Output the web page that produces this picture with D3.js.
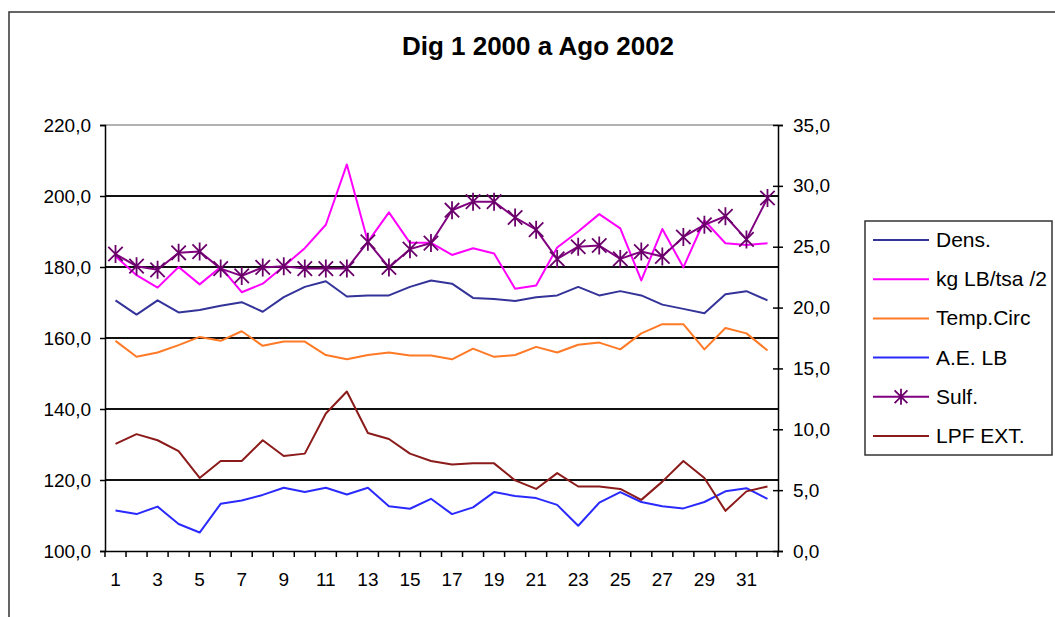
<!DOCTYPE html>
<html lang="es">
<head>
<meta charset="utf-8">
<title>Dig 1 2000 a Ago 2002</title>
<script src="https://cdn.jsdelivr.net/npm/d3@7"></script>
<style>
  body { margin: 0; background: #fff; }
  svg text { font-family: "Liberation Sans", Arial, sans-serif; }
</style>
</head>
<body>
<script>
// data
var categories = d3.range(1, 33);

var dens = [170.6, 166.6, 170.6, 167.2, 167.9, 169.1, 170.1, 167.4, 171.5, 174.4, 176.0,
  171.7, 172.0, 172.0, 174.4, 176.2, 175.3, 171.3, 171.0, 170.4, 171.5, 172.0,
  174.4, 172.0, 173.2, 172.0, 169.4, 168.2, 167.0, 172.3, 173.2, 170.6];

var kgLB = [183.0, 177.7, 174.2, 180.0, 175.1, 180.0, 172.9, 175.3, 180.2, 185.3, 191.9,
  208.9, 187.1, 195.4, 186.8, 186.8, 183.4, 185.3, 183.8, 173.9, 174.8, 185.5,
  190.0, 194.9, 190.9, 176.2, 190.7, 179.9, 193.1, 186.7, 186.2, 186.7];

var tempCirc = [159.2, 154.7, 155.9, 158.0, 160.3, 159.2, 161.9, 157.8, 159.0, 159.0, 155.2,
  154.0, 155.2, 155.9, 155.1, 155.1, 154.0, 157.0, 154.7, 155.2, 157.5, 155.9,
  158.1, 158.7, 156.8, 161.3, 163.9, 163.9, 156.8, 162.8, 161.3, 156.5];

var aeLB = [111.4, 110.4, 112.5, 107.6, 105.2, 113.3, 114.2, 115.8, 117.8, 116.6, 117.8,
  115.9, 117.8, 112.6, 111.9, 114.7, 110.4, 112.3, 116.6, 115.5, 114.9, 113.0,
  107.1, 113.6, 116.6, 113.8, 112.6, 112.0, 113.8, 116.8, 117.7, 114.7];

var sulf = [24.4, 23.4, 23.1, 24.5, 24.6, 23.2, 22.6, 23.3, 23.4, 23.2, 23.2,
  23.2, 25.4, 23.3, 24.8, 25.3, 28.0, 28.7, 28.7, 27.4, 26.4, 24.0,
  25.0, 25.1, 24.0, 24.6, 24.2, 25.8, 26.8, 27.5, 25.6, 29.0];

var lpfExt = [8.8, 9.6, 9.1, 8.2, 6.0, 7.4, 7.4, 9.1, 7.8, 8.0, 11.3,
  13.1, 9.7, 9.2, 8.0, 7.4, 7.1, 7.2, 7.2, 5.8, 5.1, 6.4,
  5.3, 5.3, 5.1, 4.2, 5.7, 7.4, 6.0, 3.3, 4.9, 5.3];

var leftTicks = [100, 120, 140, 160, 180, 200, 220];
var rightTicks = [0, 5, 10, 15, 20, 25, 30, 35];
var xLabels = [1, 3, 5, 7, 9, 11, 13, 15, 17, 19, 21, 23, 25, 27, 29, 31];

var series = [
  { name: "Dens.", values: dens, color: "#333399", axis: "L" },
  { name: "kg LB/tsa /2", values: kgLB, color: "#ff00ff", axis: "L" },
  { name: "Temp.Circ", values: tempCirc, color: "#ff7a26", axis: "L" },
  { name: "A.E. LB", values: aeLB, color: "#2a2aff", axis: "L" },
  { name: "Sulf.", values: sulf, color: "#800080", axis: "R", star: true },
  { name: "LPF EXT.", values: lpfExt, color: "#8b1a1a", axis: "R" }
];

var W = 1055, H = 617;
var plot = { left: 105, right: 778, top: 125, bottom: 551 };

var svg = d3.select("body").append("svg")
  .attr("width", W)
  .attr("height", H);

// chart frame
svg.append("path")
  .attr("d", "M9," + H + "V12H" + W)
  .attr("fill", "none")
  .attr("stroke", "#333")
  .attr("stroke-width", 1.5);

svg.append("text")
  .attr("x", 538)
  .attr("y", 55)
  .attr("text-anchor", "middle")
  .attr("font-size", "26px")
  .attr("font-weight", "bold")
  .text("Dig 1 2000 a Ago 2002");

var x = d3.scaleBand()
  .domain(categories)
  .range([plot.left, plot.right]);

var yL = d3.scaleLinear().domain([100, 220]).range([plot.bottom, plot.top]);
var yR = d3.scaleLinear().domain([0, 35]).range([plot.bottom, plot.top]);

var fmt = function (d) { return d3.format(".1f")(d).replace(".", ","); };

// top edge of plot area
svg.append("line")
  .attr("x1", plot.left).attr("x2", plot.right)
  .attr("y1", plot.top).attr("y2", plot.top)
  .attr("stroke", "#999").attr("stroke-width", 1.5);

// gridlines
svg.append("g")
  .selectAll("line")
  .data(leftTicks.filter(function (d) { return d > 100 && d < 220; }))
  .enter()
  .append("line")
  .attr("x1", plot.left).attr("x2", plot.right)
  .attr("y1", function (d) { return yL(d); })
  .attr("y2", function (d) { return yL(d); })
  .attr("stroke", "#111")
  .attr("stroke-width", 2);

// left axis
var gL = svg.append("g")
  .attr("transform", "translate(" + plot.left + ",0)")
  .call(d3.axisLeft(yL).tickValues(leftTicks).tickFormat(fmt).tickSize(5).tickPadding(9));

// right axis
var gR = svg.append("g")
  .attr("transform", "translate(" + plot.right + ",0)")
  .call(d3.axisRight(yR).tickValues(rightTicks).tickFormat(fmt).tickSize(5).tickPadding(10));
gR.selectAll(".tick line").attr("x1", -5);

// bottom axis
var gB = svg.append("g")
  .attr("transform", "translate(0," + plot.bottom + ")")
  .call(d3.axisBottom(x).tickValues([]).tickSizeOuter(0));

gB.selectAll("line.bt")
  .data(d3.range(categories.length + 1))
  .enter()
  .append("line")
  .attr("class", "bt")
  .attr("x1", function (i) { return plot.left + i * x.step(); })
  .attr("x2", function (i) { return plot.left + i * x.step(); })
  .attr("y1", 0).attr("y2", 6)
  .attr("stroke", "#000").attr("stroke-width", 1.5);

gB.selectAll("text.xl")
  .data(xLabels)
  .enter()
  .append("text")
  .attr("class", "xl")
  .attr("x", function (d) { return x(d) + x.bandwidth() / 2; })
  .attr("y", 35)
  .attr("text-anchor", "middle")
  .attr("font-size", "19px")
  .attr("fill", "#000")
  .text(function (d) { return d; });

[gL, gR, gB].forEach(function (g) {
  g.select(".domain").attr("stroke", "#000").attr("stroke-width", 1.5);
  g.selectAll(".tick line").attr("stroke", "#000").attr("stroke-width", 1.5);
  g.selectAll(".tick text").attr("font-size", "19px").attr("fill", "#000")
    .style("font-family", "'Liberation Sans', Arial, sans-serif");
});

// star marker path
function starPath(cx, cy, r) {
  var d = "M" + cx + "," + (cy - r) + "V" + (cy + r);
  d += "M" + (cx - r * 0.8) + "," + (cy - r * 0.8) + "L" + (cx + r * 0.8) + "," + (cy + r * 0.8);
  d += "M" + (cx - r * 0.8) + "," + (cy + r * 0.8) + "L" + (cx + r * 0.8) + "," + (cy - r * 0.8);
  return d;
}

var cx = function (i) { return x(categories[i]) + x.bandwidth() / 2; };

series.forEach(function (s) {
  var yS = s.axis === "L" ? yL : yR;
  var line = d3.line()
    .x(function (d, i) { return cx(i); })
    .y(function (d) { return yS(d); });

  svg.append("path")
    .datum(s.values)
    .attr("d", line)
    .attr("fill", "none")
    .attr("stroke", s.color)
    .attr("stroke-width", 2)
    .attr("stroke-linejoin", "round");

  if (s.star) {
    svg.append("g")
      .selectAll("path")
      .data(s.values)
      .enter()
      .append("path")
      .attr("d", function (d, i) { return starPath(cx(i), yS(d), 9); })
      .attr("stroke", "#6a006a")
      .attr("stroke-width", 1.8)
      .attr("fill", "none");
  }
});

// legend
var legend = svg.append("g");
legend.append("rect")
  .attr("x", 865).attr("y", 221)
  .attr("width", 187).attr("height", 234)
  .attr("fill", "#fff")
  .attr("stroke", "#333")
  .attr("stroke-width", 1.5);

var item = legend.selectAll("g.item")
  .data(series)
  .enter()
  .append("g")
  .attr("class", "item")
  .attr("transform", function (d, i) { return "translate(0," + (240 + i * 39.2) + ")"; });

item.append("line")
  .attr("x1", 873).attr("x2", 929)
  .attr("y1", 0).attr("y2", 0)
  .attr("stroke", function (d) { return d.color; })
  .attr("stroke-width", 2);

item.filter(function (d) { return d.star; })
  .append("path")
  .attr("d", starPath(901, 0, 8))
  .attr("stroke", "#6a006a")
  .attr("stroke-width", 1.8)
  .attr("fill", "none");

item.append("text")
  .attr("x", 936)
  .attr("y", 7)
  .attr("font-size", "21px")
  .attr("fill", "#000")
  .text(function (d) { return d.name; });
</script>
</body>
</html>
